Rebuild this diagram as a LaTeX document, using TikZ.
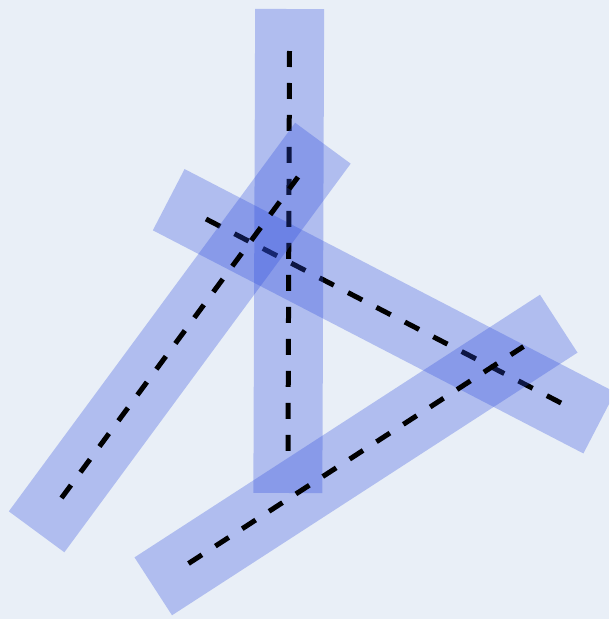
\documentclass[tikz,border=0pt]{standalone}
\definecolor{paper}{RGB}{233,239,247}
\definecolor{stripblue}{RGB}{46,76,222}
\usetikzlibrary{calc}
\tikzset{
  strip/.style={
    draw=stripblue, draw opacity=0.3, line width=1.38cm, line cap=butt,
    shorten <=-0.84cm, shorten >=-0.84cm
  },
  guide/.style={
    draw=black, line width=0.1cm, line cap=butt,
    dash pattern=on 0.32cm off 0.32cm
  },
}

\begin{document}
\begin{tikzpicture}[x=0.02cm, y=-0.02cm]
  % Paper
  \path[use as bounding box, fill=paper] (0,0) rectangle (609,619);
  \clip (0,0) rectangle (609,619);

  % End points of the dashed guides
  \coordinate (mid-a)  at (206,219);
  \coordinate (mid-b)  at (562,403.5);
  \coordinate (vert-a) at (289.5,51);
  \coordinate (vert-b) at (288,451);
  \coordinate (left-a) at (61.5,498);
  \coordinate (left-b) at (298,177);
  \coordinate (low-a)  at (188.5,563.5);
  \coordinate (low-b)  at (523.5,346.5);

  % Strips, each with its guide on top
  \draw[strip] (mid-a) -- (mid-b);
  \draw[guide] (mid-a) -- (mid-b);

  \draw[strip] (vert-a) -- (vert-b);
  \draw[guide] (vert-a) -- (vert-b);

  \draw[strip] (left-a) -- (left-b);
  \draw[guide] (left-a) -- (left-b);

  \draw[strip] (low-a) -- (low-b);
  \draw[guide] (low-a) -- (low-b);
\end{tikzpicture}
\end{document}
